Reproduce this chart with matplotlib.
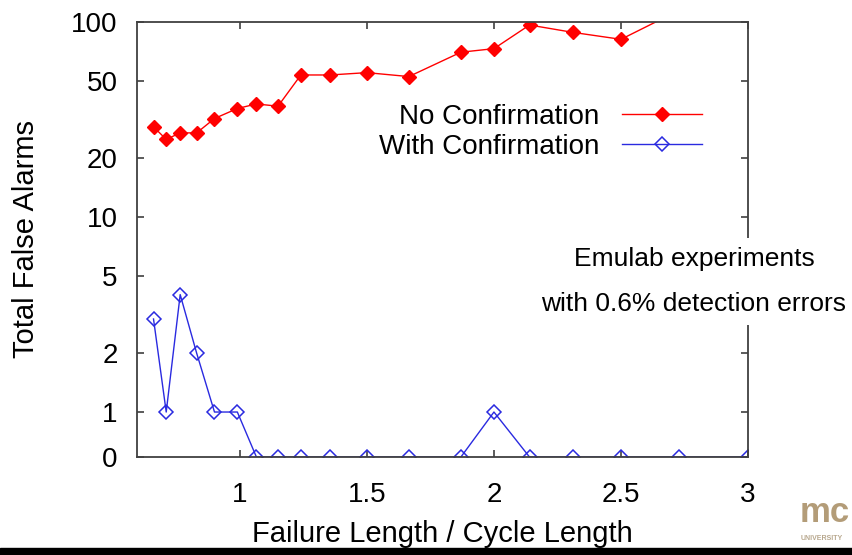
import matplotlib
matplotlib.use("Agg")
import matplotlib.pyplot as plt
import numpy as np

plt.rcParams['font.family'] = ['Liberation Sans', 'DejaVu Sans']

# failure length / cycle length
ratio = [0.66, 0.71, 0.765, 0.83, 0.9, 0.99, 1.065, 1.15, 1.24, 1.355,
         1.5, 1.665, 1.87, 2.0, 2.14, 2.31, 2.5, 2.73, 3.0]
no_confirm = [29, 25, 27, 27, 32, 36, 38, 37, 53.5, 53.5,
              55, 52.5, 70, 73, 96.5, 88.5, 81.5, 115, 125]
with_confirm = [3, 1, 4, 2, 1, 1, 0, 0, 0, 0,
                0, 0, 0, 1, 0, 0, 0, 0, 0]
yticks = [0, 1, 2, 5, 10, 20, 50, 100]
xticks = [1, 1.5, 2, 2.5, 3]

# gnuplot-ish log axis where 0 sits a bit below 1
ZERO_AT = 0.588
def fwd(y):
    return np.log10(np.maximum(np.asarray(y, dtype=float), ZERO_AT))
def inv(v):
    return 10 ** np.asarray(v, dtype=float)

W, H = 853, 555
fig = plt.figure(figsize=(W / 100, H / 100), dpi=100)
ax = fig.add_axes([137 / W, 1 - 457 / H, (748 - 137) / W, (457 - 22) / H])
ax.set_yscale('function', functions=(fwd, inv))

ax.plot(ratio, no_confirm, color='#ff0000', lw=1.0, marker='D', ms=7,
        mfc='#ff0000', mec='#ff0000', label='No Confirmation')
ax.plot(ratio, with_confirm, color='#2a2ae0', lw=1.0, marker='D', ms=7,
        mfc='none', mec='#2a2ae0', mew=1.1, label='With Confirmation')

ax.set_xlim(0.595, 3.0)
ax.set_ylim(0, 100)
ax.set_xticks(xticks)
ax.set_xticklabels(['1', '1.5', '2', '2.5', '3'])
ax.set_yticks(yticks)
ax.set_yticklabels([str(t) for t in yticks])
ax.minorticks_off()
ax.tick_params(direction='in', length=5, width=1.2, color='#404040',
               top=True, right=True, labelsize=20)
ax.tick_params(axis='x', pad=18)
ax.tick_params(axis='y', pad=14)
for s in ax.spines.values():
    s.set_color('#404040')
    s.set_linewidth(1.3)

ax.set_xlabel('Failure Length / Cycle Length', fontsize=21)
ax.xaxis.set_label_coords(0.5, -(534 - 457) / 435)
ax.xaxis.label.set_va('center')
ax.set_ylabel('Total False Alarms', fontsize=21)
ax.yaxis.set_label_coords(-(137 - 26) / 611, 0.5)
ax.yaxis.label.set_va('center')

leg = ax.legend(loc='upper right', bbox_to_anchor=(716 / W, 1 - 90 / H),
                bbox_transform=fig.transFigure, frameon=False, markerfirst=False,
                fontsize=20, handlelength=2.9, handletextpad=0.8,
                labelspacing=0.15, borderpad=0)
for t in leg.get_texts():
    t.set_ha('right')

fig.text(694 / W, 1 - 281.5 / H, 'Emulab experiments\n\nwith 0.6% detection errors',
         fontsize=19, ha='center', va='center', linespacing=0.93,
         bbox=dict(facecolor='white', edgecolor='none', pad=6))

# logo fragment and bottom bar from the slide
fig.text(800 / W, 1 - 512 / H, 'mc', fontsize=25, fontweight='bold',
         color='#b39c78', ha='left', va='center')
fig.text(801 / W, 1 - 538 / H, 'UNIVERSITY', fontsize=5, fontweight='bold',
         color='#b8a88e', ha='left', va='center')
fig.patches.append(plt.Rectangle((0, 0), 1, 7 / H, transform=fig.transFigure,
                                 color='black', zorder=5))

fig.savefig('out.png', dpi=100)
